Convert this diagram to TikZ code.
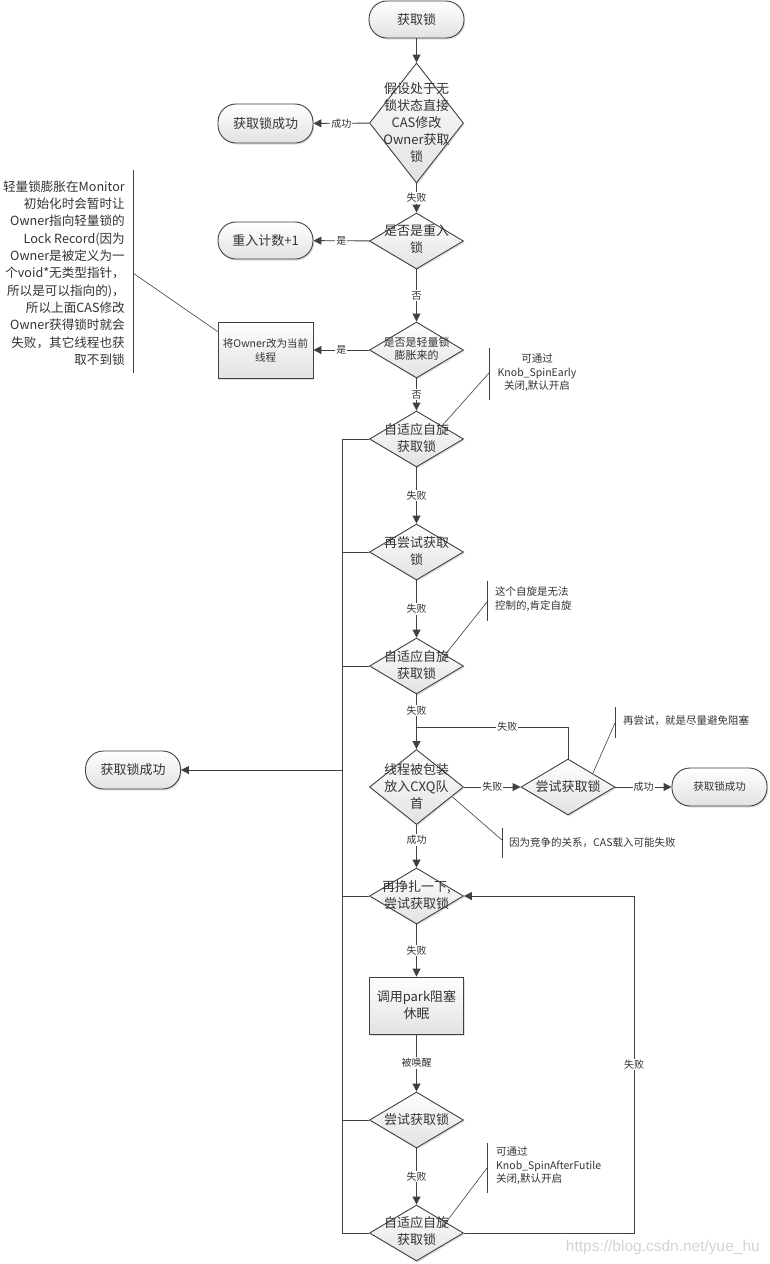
\documentclass[tikz,border=0pt]{standalone}
\usepackage{fontspec}
\setmainfont{Noto Sans CJK SC}
\newfontfamily\wmfont{Liberation Sans}
\usetikzlibrary{shapes.geometric,arrows.meta,shadows,calc}
\definecolor{ln}{HTML}{404040}
\definecolor{txt}{HTML}{333333}
\definecolor{shd}{HTML}{E2E2E2}
\definecolor{wm}{HTML}{D4D4D4}
\begin{document}
\begin{tikzpicture}[x=1pt,y=-1pt,
  shp/.style={draw=ln, line width=0.9pt, top color=white, bottom color=shd,
     drop shadow={shadow xshift=1.2pt,shadow yshift=-1.5pt,opacity=0.25}},
  dia/.style={shp, diamond, minimum width=94pt, minimum height=56pt, inner sep=0pt},
  term/.style={shp, rectangle, rounded corners=18pt, minimum width=95pt, minimum height=38pt, inner sep=0pt, text=txt, align=center, font=\fontsize{13pt}{17pt}\selectfont},
  box/.style={shp, rectangle, minimum width=95pt, minimum height=57pt, inner sep=0pt, text=txt, align=center},
  big/.style={text=txt, align=center, font=\fontsize{13pt}{17pt}\selectfont, inner sep=0pt},
  mid/.style={font=\fontsize{10.5pt}{14pt}\selectfont},
  lab/.style={text=txt, fill=white, inner sep=1pt, font=\fontsize{10pt}{12pt}\selectfont},
  conn/.style={draw=ln, line width=0.9pt},
  arr/.style={conn, -{Triangle[length=8pt,width=8pt]}},
  note/.style={draw=ln, line width=0.6pt},
  ntext/.style={text=txt, font=\fontsize{10.5pt}{13.5pt}\selectfont, inner sep=0pt},
]
\useasboundingbox (0,0) rectangle (769,1264);
\fill[white] (0,0) rectangle (769,1264);

% ---- shapes
\node[term, minimum height=37pt] (start) at (416.5,19.5) {获取锁};
\node[dia, minimum height=120pt] (d1) at (416.5,123) {};
\node[big] (d1t) at (d1) {假设处于无\\锁状态直接\\CAS修改\\Owner获取\\锁};
\node[term, minimum height=39pt] (ok1) at (265.5,123.5) {获取锁成功};
\node[dia] (d2) at (416.5,241) {};
\node[big] (d2t) at (416.5,239.5) {是否是重入\\锁};
\node[term, minimum height=37pt] (re1) at (265.5,240.5) {重入计数+1};
\node[dia] (d3) at (416.5,350) {};
\node[big, font=\fontsize{11pt}{13pt}\selectfont] (d3t) at (416.5,349) {是否是轻量锁\\膨胀来的};
\node[box, mid, minimum height=56pt] (owner) at (265.5,350) {将Owner改为当前\\线程};
\node[dia] (d4) at (416.5,439) {};
\node[big] (d4t) at (416.5,438) {自适应自旋\\获取锁};
\node[dia] (d5) at (416.5,552) {};
\node[big] (d5t) at (416.5,551.5) {再尝试获取\\锁};
\node[dia] (d6) at (416.5,666) {};
\node[big] (d6t) at (416.5,665) {自适应自旋\\获取锁};
\node[dia, minimum height=75pt] (d7) at (416.5,787) {};
\node[big] (d7t) at (416.5,786.5) {线程被包装\\放入CXQ队\\首};
\node[dia] (d8) at (568,787) {};
\node[big] (d8t) at (568,787) {尝试获取锁};
\node[term, mid] (ok3) at (719.5,787) {获取锁成功};
\node[term] (ok2) at (133,770) {获取锁成功};
\node[dia] (d9) at (416.5,896) {};
\node[big] (d9t) at (416.5,895) {再挣扎一下,\\尝试获取锁};
\node[box, font=\fontsize{13pt}{17pt}\selectfont, minimum width=94pt] (park) at (416.5,1005.5) {调用park阻塞\\休眠};
\node[dia] (d10) at (416.5,1120) {};
\node[big] (d10t) at (416.5,1119.5) {尝试获取锁};
\node[dia] (d11) at (416.5,1233) {};
\node[big] (d11t) at (416.5,1231.5) {自适应自旋\\获取锁};

% ---- main connectors
\draw[arr] (start) -- (d1);
\draw[arr] (d1) -- node[lab] (l1) {成功} (ok1);
\draw[arr] (d1) -- node[lab] (l2) {失败} (d2);
\draw[arr] (d2) -- node[lab] (l3) {是} (re1);
\draw[arr] (d2) -- node[lab] (l4) {否} (d3);
\draw[arr] (d3) -- node[lab] (l5) {是} (owner);
\draw[arr] (d3) -- node[lab] (l6) {否} (d4);
\draw[arr] (d4) -- node[lab] (l7) {失败} (d5);
\draw[arr] (d5) -- node[lab] (l8) {失败} (d6);
\draw[arr] (d6) -- node[lab, pos=0.3] (l9) {失败} (d7);
\coordinate (mg) at (416.5,727);
\draw[conn] (d8.north) |- node[lab, pos=0.70] (l10) {失败} (mg);
\draw[arr] (d7) -- node[lab] (l11) {失败} (d8);
\draw[arr] (d8) -- node[lab] (l12) {成功} (ok3);
\draw[arr] (d7) -- node[lab, pos=0.35] (l13) {成功} (d9);
\draw[arr] (d9) -- node[lab] (l14) {失败} (park);
\draw[arr] (park) -- node[lab] (l15) {被唤醒} (d10);
\draw[arr] (d10) -- node[lab] (l16) {失败} (d11);
\coordinate (fb) at (634,1233);
\draw[arr] (d11.east) -- (fb) |- node[lab, pos=0.25] (l17) {失败} (d9.east);

% ---- left bus
\coordinate (bT) at (342,439);
\coordinate (bB) at (342,1233);
\coordinate (bM) at (342,770);
\draw[conn] (d4.west) -- (bT) -- (bB) -- (d11.west);
\draw[conn] (d5.west) -- (d5.west -| bT);
\draw[conn] (d6.west) -- (d6.west -| bT);
\draw[conn] (d9.west) -- (d9.west -| bT);
\draw[conn] (d10.west) -- (d10.west -| bT);
\draw[arr] (bM) -- (ok2);

% ---- left annotation
\node[anchor=east, align=right, text=txt, font=\fontsize{12.6pt}{17.3pt}\selectfont, inner sep=0pt] (n1) at (125,273)
 {轻量锁膨胀在Monitor\\初始化时会暂时让\\Owner指向轻量锁的\\Lock Record(因为\\Owner是被定义为一\\个void*无类型指针，\\所以是可以指向的)，\\所以上面CAS修改\\Owner获得锁时就会\\失败，其它线程也获\\取不到锁};
\coordinate (n1a) at (133,170);
\coordinate (n1b) at (133,373);
\coordinate (n1m) at (133,273);
\draw[note] (n1a) -- (n1b);
\draw[note] (n1m) -- ($(owner.north west)+(0,10)$);

% ---- annotation A
\node[ntext, align=center] (nA) at (537,373) {可通过\\Knob\_SpinEarly\\关闭,默认开启};
\coordinate (nAa) at (489,348);
\coordinate (nAb) at (489,400);
\coordinate (nAm) at (489,373);
\draw[note] (nAa) -- (nAb);
\draw[note] (nAm) -- ($(d4.center)+(28,-16)$);

% ---- annotation B
\node[ntext, align=left, anchor=west] (nB) at (495,599) {这个自旋是无法\\控制的,肯定自旋};
\coordinate (nBa) at (487,581);
\coordinate (nBb) at (487,621);
\coordinate (nBm) at (487,602);
\draw[note] (nBa) -- (nBb);
\draw[note] (nBm) -- ($(d6.center)+(26,-8)$);

% ---- annotation C
\node[ntext, anchor=west] (nC) at (623,721) {再尝试，就是尽量避免阻塞};
\coordinate (nCa) at (615,707);
\coordinate (nCb) at (615,738);
\coordinate (nCm) at (615,723);
\draw[note] (nCa) -- (nCb);
\draw[note] (nCm) -- ($(d8.center)+(25,-14)$);

% ---- annotation D
\node[ntext, anchor=west] (nD) at (509,843) {因为竞争的关系，CAS载入可能失败};
\coordinate (nDa) at (502,828);
\coordinate (nDb) at (502,858);
\coordinate (nDm) at (502,840);
\draw[note] (nDa) -- (nDb);
\draw[note] (nDm) -- ($(d7.center)+(36,10)$);

% ---- annotation E
\node[ntext, align=left, anchor=west] (nE) at (496,1166) {可通过\\Knob\_SpinAfterFutile\\关闭,默认开启};
\coordinate (nEa) at (487,1143);
\coordinate (nEb) at (487,1193);
\coordinate (nEm) at (487,1168);
\draw[note] (nEa) -- (nEb);
\draw[note] (nEm) -- ($(d11.center)+(26,-6)$);

% ---- watermark
\node[text=wm, font=\wmfont\fontsize{15.5pt}{16pt}\selectfont, anchor=east, inner sep=0pt] (wmk) at (760,1247) {https://blog.csdn.net/yue\_hu};
\end{tikzpicture}
\end{document}
